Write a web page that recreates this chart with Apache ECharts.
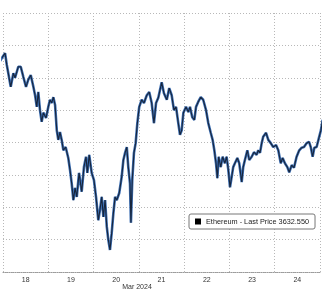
<!DOCTYPE html>
<html>
<head>
<meta charset="utf-8">
<script src="https://cdn.jsdelivr.net/npm/echarts@6/dist/echarts.min.js"></script>
<style>html,body{margin:0;padding:0;background:#fff;}#c{width:324px;height:293px;}</style>
</head>
<body>
<div id="c"></div>
<script>
// hours since 18 Mar 2024 00:00
var hours = [-1.6,1.1,2.0,4.1,5.5,6.4,8.1,9.4,10.8,12.2,13.4,14.7,16.1,17.0,17.9,18.7,19.6,20.5,21.4,22.8,
24.0,24.9,25.8,26.7,27.6,28.5,29.3,30.2,31.1,32.0,33.2,34.6,35.5,36.4,37.3,38.2,39.1,40.3,41.7,
42.9,44.0,44.7,45.7,47.0,48.2,49.3,50.5,51.4,52.3,53.2,54.1,55.0,55.8,56.7,57.6,58.5,59.4,60.3,61.6,62.9,63.8,64.7,65.6,66.4,67.3,67.8,68.5,69.4,70.3,71.2,
72.2,73.5,74.7,76.2,77.5,78.8,80.0,81.1,82.3,83.2,84.1,
85.3,86.8,88.1,89.4,90.6,91.7,92.9,93.8,94.7,95.6,97.0,98.2,99.1,100.3,101.4,102.3,103.5,104.8,106.1,107.6,108.8,110.1,111.1,112.0,112.9,113.6,114.3,115.4,116.4,117.6,118.5,119.4,120.3,121.2,122.0,122.9,124.2,125.2,
126.5,127.3,128.2,129.5,130.5,131.8,133.0,134.4,135.3,136.2,137.1,137.9,139.4,140.6,141.9,143.2,144.7,145.9,147.2,148.2,149.4,150.7,151.7,153.0,154.2,155.6,157.0,158.3,159.5,160.9,162.2,163.1,164.1,165.0,166.2,167.6,168.5,169.4,170.1];
var prices = [3726,3738,3720,3686,3707,3700,3717,3717,3701,3686,3697,3704,3686,3673,3655,3678,3650,3632,3646,3638,
3655,3666,3661,3670,3658,3619,3604,3616,3604,3588,3593,3576,3558,3537,3511,3530,3516,3553,3524,
3562,3578,3553,3581,3553,3542,3516,3480,3496,3516,3485,3511,3470,3450,3434,3460,3491,3516,3511,3522,3547,3573,3584,3593,3562,3537,3476,3542,3584,3599,3630,
3655,3666,3661,3673,3678,3661,3630,3661,3669,3681,3693,
3676,3666,3684,3673,3650,3655,3630,3612,3619,3646,3655,3647,3655,3639,3635,3655,3663,3670,3666,3650,3630,3615,3604,3588,3568,3545,3578,3562,3578,3568,3578,3558,3531,3547,3562,3568,3576,3568,
3539,3562,3573,3588,3573,3578,3585,3581,3588,3584,3599,3609,3615,3604,3599,3593,3596,3588,3568,3576,3568,3562,3554,3565,3561,3578,3588,3592,3593,3599,3601,3593,3578,3592,3593,3609,3619,3635,3632.55];
var dayLabels = ['18','19','20','21','22','23','24'];
var axisTitle = 'Mar 2024';
var seriesName = 'Ethereum - Last Price 3632.550';

var data = hours.map(function(h, i){ return [h, prices[i]]; });
var font = 'Liberation Sans, Arial, sans-serif';
var grid = {color: '#b8b8b8', type: [1, 2], width: 1};
var chart = echarts.init(document.getElementById('c'), null, {renderer:'canvas'});
chart.setOption({
  animation: false,
  backgroundColor: '#fff',
  grid: {left: 3, right: 4, top: 13, bottom: 21, containLabel: false, outerBoundsMode: 'none'},
  xAxis: [{
    type: 'value', min: 0, max: 168, interval: 24,
    axisLine: {show: true, onZero: false, lineStyle: {color: '#9a9a9a', type: [1, 1], width: 1}},
    axisTick: {show: false}, axisLabel: {show: false},
    splitLine: {show: true, lineStyle: grid}
  }, {
    type: 'value', min: 0, max: 168, interval: 12, position: 'bottom',
    axisLine: {show: false}, axisTick: {show: false}, splitLine: {show: false},
    axisLabel: {show: true, fontSize: 7, fontFamily: font, color: '#333', margin: 5,
      formatter: function(v){ return (v % 24 === 12) ? dayLabels[(v - 12) / 24] : ''; }},
    name: axisTitle, nameLocation: 'middle', nameGap: 12, nameMoveOverlap: false,
    nameTextStyle: {fontSize: 7, fontFamily: font, color: '#333', padding: [0, 49, 0, 0]}
  }],
  yAxis: {
    type: 'value', min: 3400, max: 3800, interval: 50,
    axisLine: {show: false}, axisTick: {show: false}, axisLabel: {show: false},
    splitLine: {show: true, lineStyle: grid}
  },
  legend: {
    data: [seriesName], left: 189, top: 214, icon: 'rect', itemWidth: 6, itemHeight: 6,
    padding: [4, 6, 4, 6], backgroundColor: '#fff', borderColor: '#777', borderWidth: 1, borderRadius: 2,
    itemStyle: {color: '#000'},
    textStyle: {fontSize: 7.3, fontFamily: font, color: '#222'}
  },
  series: [{
    name: '_band', type: 'line', data: data, showSymbol: false, clip: false,
    lineStyle: {color: '#3d6fb3', width: 2.6}, z: 2
  }, {
    name: seriesName, type: 'line', data: data, showSymbol: false, clip: false,
    itemStyle: {color: '#000'},
    lineStyle: {color: '#17253c', width: 1.1}, z: 3
  }]
});
</script>
</body>
</html>
